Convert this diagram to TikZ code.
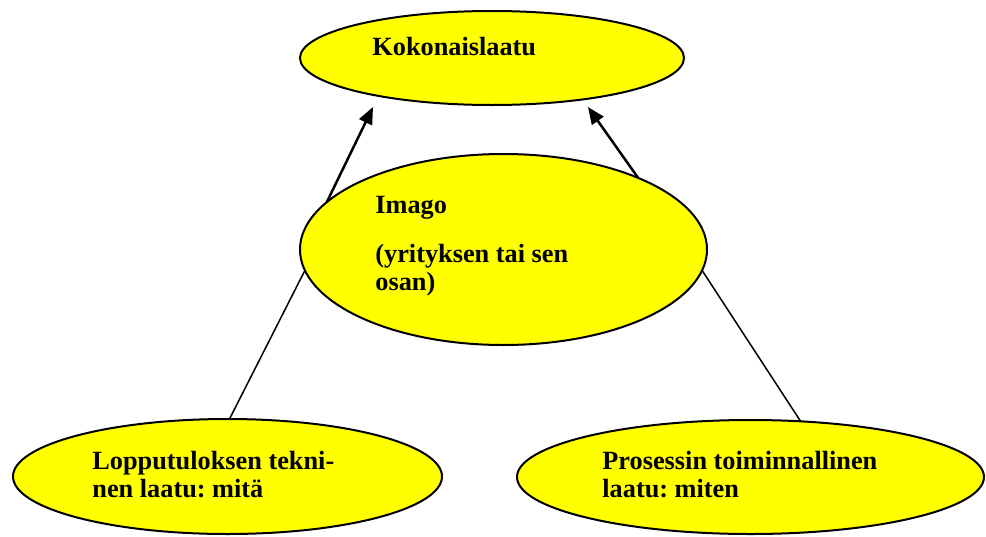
\documentclass[tikz,border=0pt]{standalone}
\usepackage{fontspec}
\setmainfont{Liberation Serif}
\usepackage{tikz}
\usetikzlibrary{arrows.meta,shapes.geometric}
\definecolor{QualYellow}{HTML}{FFFF00}
\frenchspacing

\begin{document}
\begin{tikzpicture}[
  x=0.5pt, y=-0.5pt,
  oval/.style={ellipse, draw=black, line width=1pt, fill=QualYellow, inner sep=0pt, outer sep=0pt},
  txt/.style={anchor=base west, inner sep=0pt, align=left, font=\fontsize{13.15}{14}\selectfont\bfseries},
  arrow/.style={-{Triangle[length=8.5pt,width=7pt]}, line width=1.25pt},
  link/.style={line width=0.75pt}
]
\useasboundingbox (0,0) rectangle (986,536);

% ellipses
\node[oval, minimum width=192pt, minimum height=47pt] (total) at (492,58) {};
\node[oval, minimum width=203.5pt, minimum height=95.5pt] (imago) at (503.5,249.5) {};
\node[oval, minimum width=214.5pt, minimum height=57.5pt] (tech) at (227.5,476.5) {};
\node[oval, minimum width=233.5pt, minimum height=57pt] (func) at (750.5,477) {};

% texts (base = last line)
\node[txt] (totaltxt) at (372,55) {Kokonaislaatu};
\node[txt] (imagotxt) at (375,290) {Imago\\[10.5pt](yrityksen tai sen\\osan)};
\node[txt] (techtxt) at (92,497) {Lopputuloksen tekni-\\nen laatu: mitä};
\node[txt] (functxt) at (602,497) {Prosessin toiminnallinen\\laatu: miten};

% connectors
\coordinate (tipL) at (373,107);
\coordinate (tipR) at (588,107);
\draw[arrow] (imago.165.3) -- (tipL);
\draw[arrow] (imago.28.2) -- (tipR);
\draw[link] (imago.186.6) -- (tech.88.5);
\draw[link] (imago.-6.6) -- (func.48.6);
\end{tikzpicture}
\end{document}
